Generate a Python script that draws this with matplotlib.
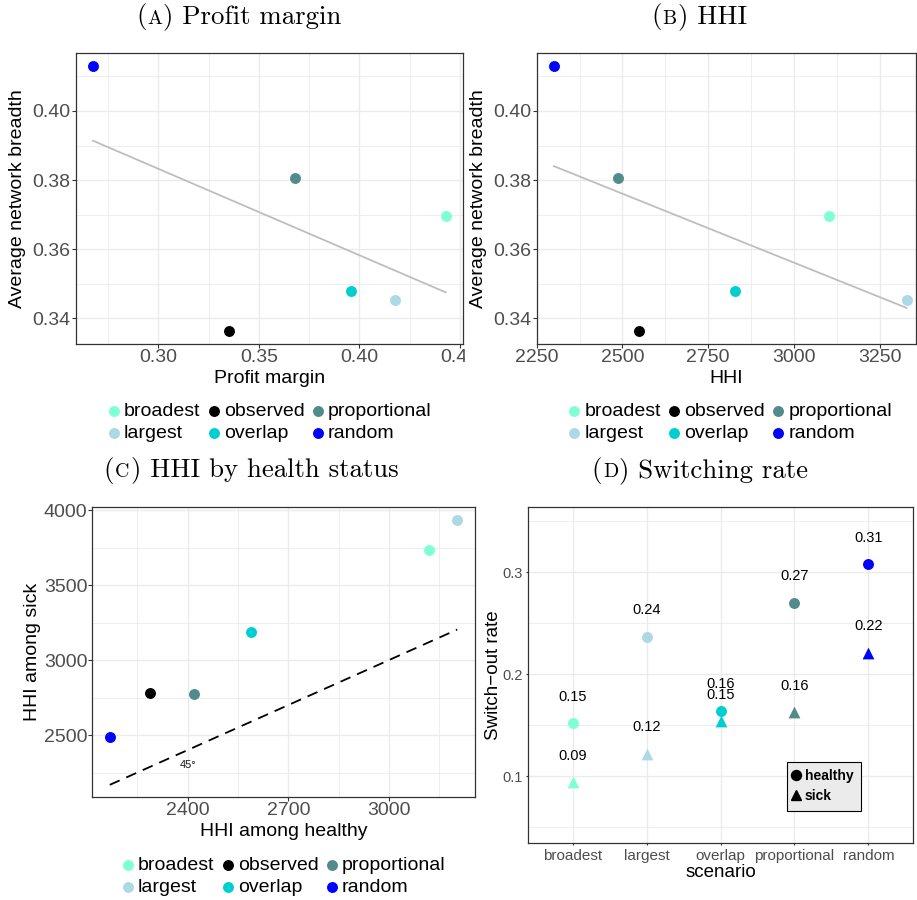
import matplotlib
matplotlib.use("Agg")
import matplotlib.pyplot as plt
from matplotlib.ticker import MultipleLocator, FormatStrFormatter
from matplotlib.lines import Line2D
from matplotlib.patches import Rectangle
import numpy as np

plt.rcParams['font.family'] = ['Liberation Sans', 'DejaVu Sans']

# ---------------- data ----------------
scenarios = ["broadest", "largest", "observed", "overlap", "proportional", "random"]
scenario_colors = ["#7FFFD4", "#ADD8E6", "#000000", "#00CED1", "#528B8B", "#0000FF"]

profit_margin = [0.4430, 0.4178, 0.3353, 0.3957, 0.3679, 0.2675]
network_breadth = [0.3696, 0.3453, 0.3362, 0.3479, 0.3806, 0.4130]
hhi = [3104, 3329, 2548, 2828, 2486, 2300]
hhi_healthy = [3118, 3203, 2289, 2589, 2420, 2168]
hhi_sick = [3733, 3935, 2778, 3187, 2773, 2487]

switch_scenarios = ["broadest", "largest", "overlap", "proportional", "random"]
switch_healthy = [0.152, 0.237, 0.164, 0.270, 0.308]
switch_sick = [0.094, 0.122, 0.154, 0.163, 0.221]

color_of = dict(zip(scenarios, scenario_colors))

# ---------------- figure ----------------
W, H = 917, 900
fig = plt.figure(figsize=(W / 100, H / 100), dpi=100)


def ax_px(l, t, r, b, z=0):
    a = fig.add_axes([l / W, 1 - b / H, (r - l) / W, (b - t) / H])
    a.set_zorder(z)
    return a


def style(ax, tick_len=2.6, pad=1.0, tsize=14):
    ax.set_facecolor("white")
    for s in ax.spines.values():
        s.set_color("#333333")
        s.set_linewidth(0.9)
    ax.set_axisbelow(True)
    ax.grid(which="major", color="#EBEBEB", lw=1.0)
    ax.grid(which="minor", color="#EBEBEB", lw=0.6)
    ax.tick_params(which="major", color="#333333", labelcolor="#4D4D4D",
                   length=tick_len, width=0.8, pad=pad, labelsize=tsize)
    ax.tick_params(which="minor", length=0)


def scatter_panel(ax, xs, ys):
    for name, x, y in zip(scenarios, xs, ys):
        ax.scatter([x], [y], s=62, color=color_of[name], linewidths=0,
                   zorder=3, label=name)


def panel_legend(ax, left_px, top_px):
    leg = ax.legend(loc="upper left", bbox_to_anchor=(left_px / W, 1 - top_px / H),
                    bbox_transform=fig.transFigure, ncol=3, frameon=False,
                    fontsize=14, borderpad=0, borderaxespad=0, handlelength=0.6,
                    handletextpad=0.22, columnspacing=0.38, labelspacing=0.24,
                    scatterpoints=1)
    return leg


# ---- Panel A ----
axA = ax_px(75.7, 53, 463, 344, z=0)
style(axA)
scatter_panel(axA, profit_margin, network_breadth)
pA = np.polyfit(profit_margin, network_breadth, 1)
xa = np.array([min(profit_margin), max(profit_margin)])
axA.plot(xa, np.polyval(pA, xa), color="#BEBEBE", lw=1.3, zorder=2)
axA.set_xlim(0.2589, 0.4516)
axA.set_ylim(0.3325, 0.4168)
axA.xaxis.set_major_locator(MultipleLocator(0.05))
axA.xaxis.set_minor_locator(MultipleLocator(0.025))
axA.yaxis.set_major_locator(MultipleLocator(0.02))
axA.yaxis.set_minor_locator(MultipleLocator(0.01))
axA.xaxis.set_major_formatter(FormatStrFormatter("%.2f"))
axA.yaxis.set_major_formatter(FormatStrFormatter("%.2f"))
axA.set_xlabel("Profit margin", fontsize=14, va="center")
axA.set_ylabel("Average network breadth", fontsize=14, va="center")
axA.xaxis.set_label_coords(0.5, -0.1186)
axA.yaxis.set_label_coords(-0.150, 0.5)
panel_legend(axA, 107.9, 402.5)

# white mask so panel B sits on top of panel A (as in the assembled figure)
fig.add_artist(Rectangle((464.5 / W, 0.5), (W - 464.5) / W, 0.5,
                         transform=fig.transFigure, facecolor="white",
                         edgecolor="none", zorder=1))

# ---- Panel B ----
axB = ax_px(536.7, 53, 916, 344, z=2)
style(axB)
scatter_panel(axB, hhi, network_breadth)
pB = np.polyfit(hhi, network_breadth, 1)
xb = np.array([min(hhi), max(hhi)])
axB.plot(xb, np.polyval(pB, xb), color="#BEBEBE", lw=1.3, zorder=2)
axB.set_xlim(2250, 2250 + (916 - 536.7) / 0.3428)
axB.set_ylim(0.3325, 0.4168)
axB.xaxis.set_major_locator(MultipleLocator(250))
axB.xaxis.set_minor_locator(MultipleLocator(125))
axB.yaxis.set_major_locator(MultipleLocator(0.02))
axB.yaxis.set_minor_locator(MultipleLocator(0.01))
axB.yaxis.set_major_formatter(FormatStrFormatter("%.2f"))
axB.set_xlabel("HHI", fontsize=14, va="center")
axB.set_ylabel("Average network breadth", fontsize=14, va="center")
axB.xaxis.set_label_coords(0.5, -0.1186)
axB.yaxis.set_label_coords((478.6 - 536.7) / (916 - 536.7), 0.5)
panel_legend(axB, 568.5, 402.5)

# ---- Panel C ----
axC = ax_px(92.3, 506.7, 475, 797.3, z=0)
style(axC)
scatter_panel(axC, hhi_healthy, hhi_sick)
xc = np.array([min(hhi_healthy), max(hhi_healthy)])
axC.plot(xc, xc, color="black", lw=1.3, ls=(0, (6, 4)), zorder=2)
axC.text(2400, 2300, "45°", fontsize=8, ha="center", va="center", color="#1A1A1A")
axC.set_xlim(2116, 3256)
axC.set_ylim(2085, 4022)
axC.xaxis.set_major_locator(MultipleLocator(300))
axC.xaxis.set_minor_locator(MultipleLocator(150))
axC.yaxis.set_major_locator(MultipleLocator(500))
axC.yaxis.set_minor_locator(MultipleLocator(250))
axC.set_xlabel("HHI among healthy", fontsize=14, va="center")
axC.set_ylabel("HHI among sick", fontsize=14, va="center")
axC.xaxis.set_label_coords(0.5, -0.1184)
axC.yaxis.set_label_coords(-0.1563, 0.5)
panel_legend(axC, 121.9, 856.0)

# ---- Panel D ----
axD = ax_px(528.3, 506.7, 912.7, 843.3, z=0)
style(axD, tick_len=1.5, pad=2.4, tsize=11)
axD.tick_params(axis="y", labelsize=10.5)
xpos = np.arange(len(switch_scenarios))
for i, name in enumerate(switch_scenarios):
    axD.scatter([i], [switch_healthy[i]], s=62, marker="o", color=color_of[name],
                linewidths=0, zorder=3)
    axD.scatter([i], [switch_sick[i]], s=72, marker="^", color=color_of[name],
                linewidths=0, zorder=3)
    axD.text(i, switch_healthy[i] + 0.026, f"{switch_healthy[i]:.2f}", fontsize=10.5,
             ha="center", va="center", color="black", zorder=4)
    axD.text(i, switch_sick[i] + 0.026, f"{switch_sick[i]:.2f}", fontsize=10.5,
             ha="center", va="center", color="black", zorder=4)
axD.set_xticks(xpos)
axD.set_xticklabels(switch_scenarios)
axD.set_xlim(-0.6, len(switch_scenarios) - 0.4)
axD.set_ylim(0.0343, 0.3643)
axD.yaxis.set_major_locator(MultipleLocator(0.1))
axD.yaxis.set_minor_locator(MultipleLocator(0.05))
axD.yaxis.set_major_formatter(FormatStrFormatter("%.1f"))
axD.grid(which="minor", axis="x", visible=False)
axD.set_xlabel("scenario", fontsize=13.5, va="center")
axD.set_ylabel("Switch\u2212out rate", fontsize=13.5, va="center")
axD.xaxis.set_label_coords(0.5, -0.0876)
axD.yaxis.set_label_coords(-0.0908, 0.5)
hD = [Line2D([], [], marker="o", color="black", ls="none", markersize=7.2),
      Line2D([], [], marker="^", color="black", ls="none", markersize=7.8)]
legD = axD.legend(hD, ["healthy", "sick"], loc="upper left",
                  bbox_to_anchor=(787.3 / W, 1 - 761.7 / H), bbox_transform=fig.transFigure,
                  prop={"weight": "bold", "size": 10}, frameon=True, fancybox=False,
                  facecolor="#EBEBEB", edgecolor="black", framealpha=1,
                  borderpad=0.55, borderaxespad=0, handlelength=0.1,
                  handletextpad=0.6, labelspacing=0.4)
legD.get_frame().set_linewidth(0.8)

# ---------------- titles (small caps letter) ----------------
renderer = fig.canvas.get_renderer()


def sc_title(xc_px, base_px, letter, rest, size=19.3):
    parts = [("(", size), (letter, size * 0.74), (") " + rest, size)]
    texts = []
    for s, fs in parts:
        t = fig.text(0, 1 - base_px / H, s, fontsize=fs, family="cmr10",
                     va="baseline", ha="left", zorder=5)
        texts.append(t)
    widths = [t.get_window_extent(renderer).width for t in texts]
    x = xc_px - sum(widths) / 2
    for t, w in zip(texts, widths):
        t.set_x(x / W)
        x += w + 1.0


sc_title(238, 23.5, "A", "Profit margin")
sc_title(698, 23.5, "B", "HHI")
sc_title(250, 476.7, "C", "HHI by health status")
sc_title(699, 477.0, "D", "Switching rate")

fig.savefig("out.png", dpi=100)
